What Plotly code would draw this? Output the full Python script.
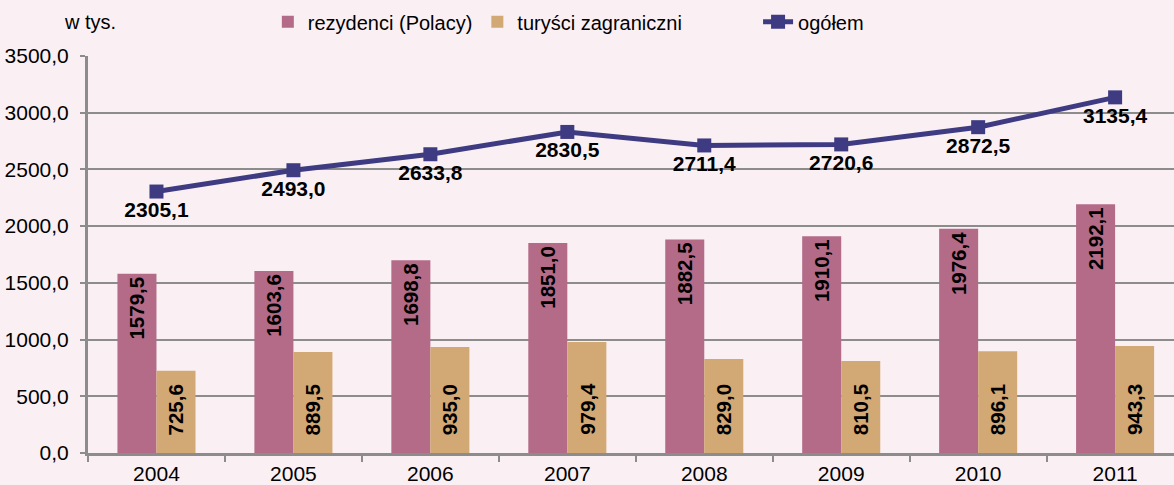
import plotly.graph_objects as go

years = ["2004", "2005", "2006", "2007", "2008", "2009", "2010", "2011"]
rezydenci = [1579.5, 1603.6, 1698.8, 1851.0, 1882.5, 1910.1, 1976.4, 2192.1]
turysci = [725.6, 889.5, 935.0, 979.4, 829.0, 810.5, 896.1, 943.3]
ogolem = [2305.1, 2493.0, 2633.8, 2830.5, 2711.4, 2720.6, 2872.5, 3135.4]

BG = "#FAF0F4"
PINK = "#B36B88"
TAN = "#D2A874"
NAVY = "#3E3B82"
GRID = "#8C8C8C"
FONT = "Liberation Sans, Arial, sans-serif"

fig = go.Figure()
fig.add_trace(go.Bar(
    x=years, y=rezydenci, name="rezydenci (Polacy)", legend="legend",
    marker=dict(color=PINK, line=dict(width=0)),
    texttemplate="%{y:.1f}", textposition="inside", insidetextanchor="end",
    textangle=-90, textfont=dict(family=FONT, size=20.5, color="black", weight="bold"),
))
fig.add_trace(go.Bar(
    x=years, y=turysci, name="turyści zagraniczni", legend="legend",
    marker=dict(color=TAN, line=dict(width=0)),
))
fig.add_trace(go.Scatter(
    x=years, y=ogolem, name="ogółem", mode="lines+markers+text", legend="legend2",
    line=dict(color=NAVY, width=5),
    marker=dict(symbol="square", size=14, color=NAVY),
    texttemplate="%{y:.1f}", textposition="bottom center",
    textfont=dict(family=FONT, size=21, color="black", weight="bold"),
))

annotations = []
for i, v in enumerate(turysci):
    annotations.append(dict(
        x=i, y=0, xref="x", yref="y", text=f"{v:.1f}".replace(".", ","),
        textangle=-90, showarrow=False, xanchor="center", yanchor="bottom",
        xshift=19.5, yshift=16,
        font=dict(family=FONT, size=20.5, color="black", weight="bold"),
    ))
annotations.append(dict(
    x=0.002, y=1.086, xref="paper", yref="paper", text="w tys.",
    showarrow=False, xanchor="center", yanchor="middle",
    font=dict(family=FONT, size=20, color="black"),
))

legend_common = dict(orientation="h", yanchor="middle", y=1.086,
                     font=dict(family=FONT, size=20, color="black"),
                     bgcolor="rgba(0,0,0,0)", traceorder="normal")

fig.update_layout(
    width=1174, height=485,
    margin=dict(l=88, r=0, t=56, b=32),
    paper_bgcolor=BG, plot_bgcolor=BG,
    font=dict(family=FONT, size=20, color="black"),
    separators=", ",
    barmode="group", bargap=0.43, bargroupgap=0,
    showlegend=True,
    legend=dict(x=0.1656, xanchor="left", **legend_common),
    legend2=dict(x=0.617, xanchor="left", **legend_common),
    annotations=annotations,
    xaxis=dict(type="category", range=[-0.5, 7.43], showgrid=False,
               showline=True, linecolor=GRID, linewidth=3,
               ticks="outside", tickson="boundaries", ticklen=6, tickcolor=GRID, tickwidth=2,
               tickfont=dict(family=FONT, size=21, color="black")),
    yaxis=dict(range=[0, 3500], dtick=500, tickformat=".1f",
               showgrid=True, gridcolor=GRID, gridwidth=2,
               showline=True, linecolor=GRID, linewidth=3, zeroline=False,
               ticks="outside", ticklen=5, tickcolor=GRID, tickwidth=2,
               ticklabelstandoff=7,
               tickfont=dict(family=FONT, size=21, color="black")),
)

fig.write_html("out.html", config={"displayModeBar": False},
               post_script="document.body.style.margin='0';")
